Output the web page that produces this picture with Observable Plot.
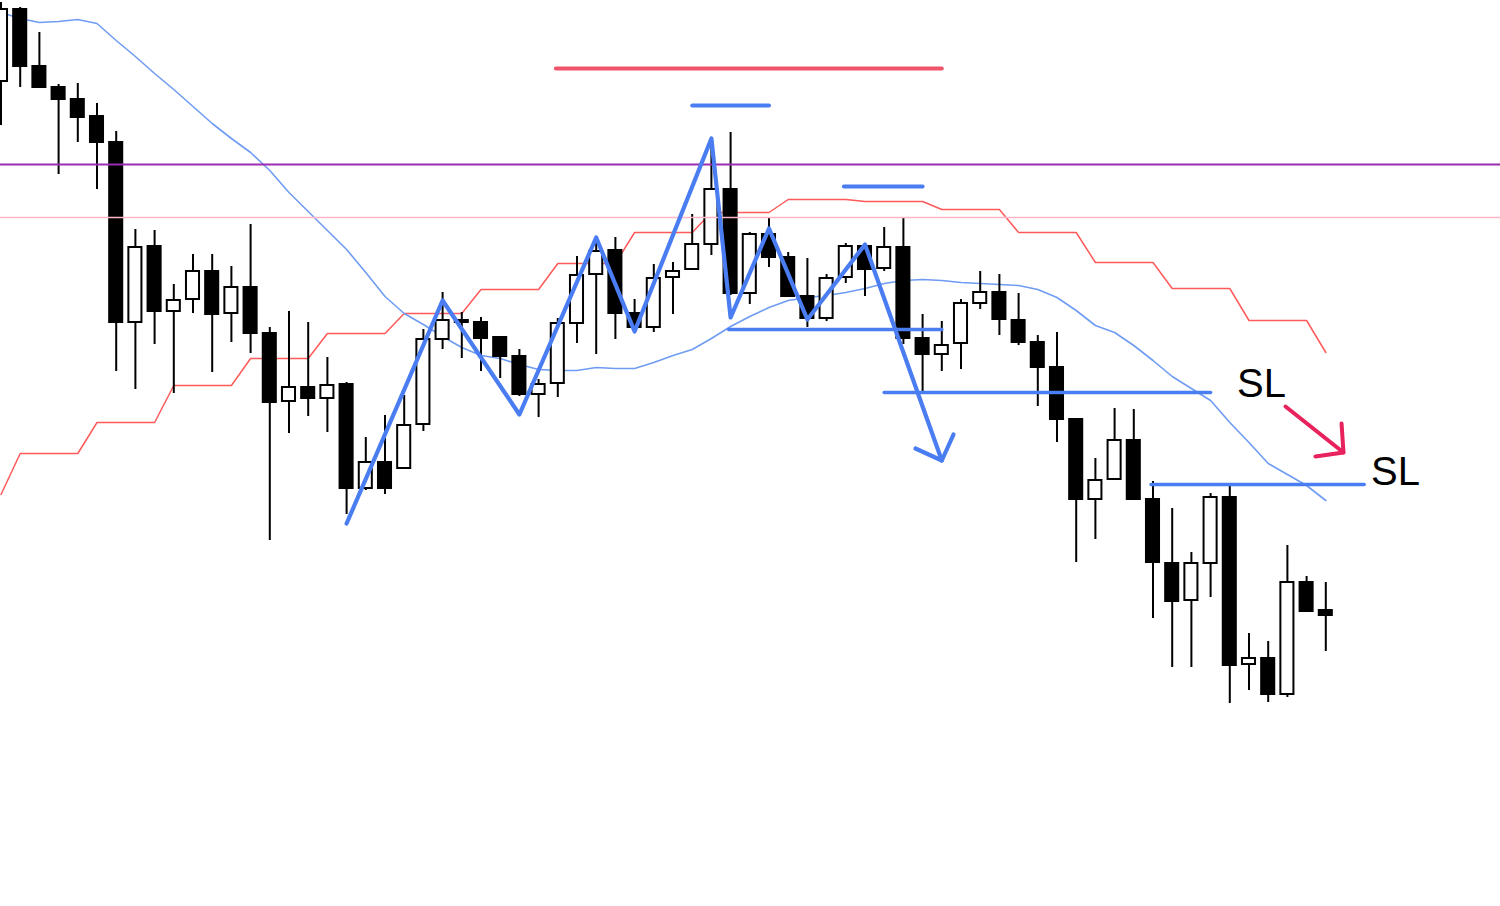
<!DOCTYPE html>
<html>
<head>
<meta charset="utf-8">
<script src="https://cdn.jsdelivr.net/npm/d3@7"></script>
<script src="https://cdn.jsdelivr.net/npm/@observablehq/plot@0.6"></script>
<style>
  html, body { margin: 0; padding: 0; background: #ffffff; }
  #chart svg { display: block; background: #ffffff; }
</style>
</head>
<body>
<div id="chart"></div>
<script>
// ---- Candle data (index 0..69), price units ----
const opens = [149.19,149.91,149.34,149.13,149.01,148.84,148.58,146.78,147.54,146.89,
  147.01,147.29,146.87,147.13,146.67,145.99,146.13,146.02,146.16,145.12,
  145.38,145.32,145.76,146.61,146.80,146.78,146.63,146.44,146.06,146.17,
  146.77,147.26,147.50,146.87,146.73,147.23,147.31,147.56,148.11,147.07,
  147.66,147.43,147.04,146.82,147.23,147.54,147.32,147.53,146.62,146.46,
  146.57,146.97,147.08,146.80,146.58,146.33,145.81,145.01,145.21,145.60,
  145.01,144.37,144.00,144.37,145.03,143.36,143.42,143.06,144.18,143.90];
const highs = [149.98,149.93,149.68,149.16,149.17,148.97,148.69,147.71,147.70,147.16,
  147.46,147.46,147.34,147.76,146.73,146.89,146.78,146.43,146.18,145.63,
  145.85,146.05,146.71,147.08,146.88,146.83,146.64,146.51,146.21,146.82,
  147.44,147.63,147.63,147.01,147.36,147.38,147.86,148.60,148.68,147.68,
  147.82,147.48,147.42,147.26,147.57,147.55,147.73,147.82,146.86,146.79,
  147.01,147.29,147.26,147.07,146.65,146.68,145.81,145.42,145.92,145.91,
  145.19,144.92,144.48,145.07,145.15,143.67,143.59,144.55,144.24,144.18];
const lows = [148.75,149.13,149.13,148.26,148.58,148.11,146.29,146.11,146.56,146.07,
  146.87,146.28,146.58,146.47,144.60,145.67,145.84,145.68,144.86,145.10,
  145.06,145.32,145.69,146.51,146.42,146.29,146.22,146.04,145.83,146.03,
  146.57,146.46,146.61,146.70,146.68,146.86,147.31,147.45,147.05,146.96,
  147.33,147.03,146.73,146.79,147.17,147.04,147.29,146.56,146.08,146.29,
  146.31,146.91,146.65,146.55,145.94,145.58,144.38,144.61,145.21,145.00,
  143.82,143.33,143.33,144.03,142.97,143.10,142.98,143.03,143.89,143.49];
const closes = [149.91,149.34,149.13,149.01,148.83,148.58,146.78,147.53,146.89,147.00,
  147.29,146.86,147.13,146.67,145.98,146.13,146.02,146.15,145.12,145.38,
  145.12,145.75,146.61,146.80,146.78,146.62,146.44,146.06,146.16,146.77,
  147.25,147.49,146.87,146.73,147.22,147.29,147.56,148.11,147.07,147.66,
  147.43,147.04,146.82,147.22,147.54,147.31,147.53,146.62,146.46,146.55,
  146.97,147.08,146.81,146.58,146.33,145.81,145.01,145.20,145.60,145.01,
  144.38,143.99,144.37,145.03,143.35,143.42,143.06,144.18,143.89,143.85];

// ---- Moving average (blue thin) ----
const maValues = [149.88,149.82,149.78,149.79,149.81,149.77,149.60,149.44,149.27,149.11,
  148.94,148.77,148.62,148.48,148.30,148.08,147.89,147.70,147.51,147.28,
  147.04,146.87,146.76,146.64,146.53,146.45,146.42,146.36,146.31,146.30,
  146.30,146.33,146.32,146.32,146.38,146.45,146.51,146.62,146.74,146.84,
  146.93,147.00,147.03,147.05,147.08,147.12,147.17,147.20,147.21,147.20,
  147.18,147.17,147.16,147.15,147.11,147.03,146.90,146.75,146.68,146.55,
  146.40,146.24,146.12,146.00,145.78,145.58,145.37,145.26,145.15,145.00];

// ---- Red step line ----
const stepValues = [145.06,145.47,145.47,145.47,145.47,145.78,145.78,145.78,145.78,146.15,
  146.15,146.15,146.15,146.42,146.42,146.42,146.42,146.67,146.67,146.67,
  146.67,146.87,146.87,146.87,146.87,147.11,147.11,147.11,147.11,147.37,
  147.37,147.37,147.37,147.68,147.68,147.68,147.68,147.88,147.88,147.88,
  147.88,148.01,148.01,148.01,148.01,147.99,147.99,147.99,147.99,147.91,
  147.91,147.91,147.91,147.68,147.68,147.68,147.68,147.38,147.38,147.38,
  147.38,147.12,147.12,147.12,147.12,146.80,146.80,146.80,146.80,146.48];

// ---- Horizontal levels ----
const purpleLevel = [148.36];
const pinkLevel = [147.83];

// ---- Annotation segments: [xStart, xEnd, price] ----
const redTopLine = [[28.9, 49.0, 149.32]];
const blueShortLines = [[36.0, 40.0, 148.95], [43.9, 48.0, 148.14]];
const blueLevelLines = [[37.9, 49.0, 146.71], [46.0, 63.0, 146.08], [59.9, 71.0, 145.16]];

// ---- Zigzag (index, price) ----
const zigX = [18, 23, 27, 31, 33, 37, 38, 40, 42, 45, 49];
const zigY = [144.77, 147.00, 145.86, 147.63, 146.69, 148.62, 146.83, 147.72, 146.81, 147.56, 145.40];
const zigHeadX = [47.63, 49, 49.61];
const zigHeadY = [145.52, 145.40, 145.66];

// ---- Red SL arrow ----
const slArrowX = [66.9, 69.92];
const slArrowY = [145.94, 145.48];
const slHeadX = [69.82, 69.92, 68.46];
const slHeadY = [145.77, 145.48, 145.44];

// ---- Labels ----
const labelText = ["SL", "SL"];
const labelX = [64.38, 71.36];
const labelY = [146.165, 145.28];

// ---- Build tables ----
const idx = d3.range(opens.length);
const candles = idx.map(i => ({i, open: opens[i], high: highs[i], low: lows[i], close: closes[i]}));
const toSeg = a => a.map(([x1, x2, y]) => ({x1, x2, y}));
const zig = zigX.map((x, k) => ({x, y: zigY[k]}));
const zigHead = zigHeadX.map((x, k) => ({x, y: zigHeadY[k]}));
const slArrow = slArrowX.map((x, k) => ({x, y: slArrowY[k]}));
const slHead = slHeadX.map((x, k) => ({x, y: slHeadY[k]}));
const labels = labelText.map((t, k) => ({t, x: labelX[k], y: labelY[k]}));

const BLUE = "#4a7df2";
const half = 0.34;

const chart = Plot.plot({
  width: 1500,
  height: 906,
  margin: 0,
  style: {background: "#ffffff", overflow: "visible"},
  x: {type: "linear", domain: [-0.026, 78.099], axis: null},
  y: {type: "linear", domain: [140.94, 150], axis: null},
  marks: [
    Plot.line(idx, {x: i => i, y: i => stepValues[i], stroke: "#ff5a5a", strokeWidth: 1.5}),
    Plot.line(idx, {x: i => i, y: i => maValues[i], stroke: "#6f9cf3", strokeWidth: 1.6, curve: "linear"}),
    Plot.ruleX(candles, {x: "i", y1: "low", y2: "high", stroke: "black", strokeWidth: 2}),
    Plot.rect(candles, {
      x1: d => d.i - half, x2: d => d.i + half,
      y1: "open", y2: "close",
      fill: d => d.close >= d.open ? "white" : "black",
      stroke: "black", strokeWidth: 2
    }),
    Plot.ruleY(purpleLevel, {stroke: "#9c2cb0", strokeWidth: 2}),
    Plot.ruleY(pinkLevel, {stroke: "#ffb6c9", strokeWidth: 1.5}),
    Plot.link(toSeg(redTopLine), {x1: "x1", x2: "x2", y1: "y", y2: "y", stroke: "#f0546a", strokeWidth: 4, strokeLinecap: "round"}),
    Plot.link(toSeg(blueShortLines), {x1: "x1", x2: "x2", y1: "y", y2: "y", stroke: BLUE, strokeWidth: 4, strokeLinecap: "round"}),
    Plot.link(toSeg(blueLevelLines), {x1: "x1", x2: "x2", y1: "y", y2: "y", stroke: BLUE, strokeWidth: 3.5, strokeLinecap: "round"}),
    Plot.line(zig, {x: "x", y: "y", stroke: BLUE, strokeWidth: 4.2, strokeLinecap: "round", strokeLinejoin: "round"}),
    Plot.line(zigHead, {x: "x", y: "y", stroke: BLUE, strokeWidth: 4.2, strokeLinecap: "round", strokeLinejoin: "round"}),
    Plot.line(slArrow, {x: "x", y: "y", stroke: "#e8225c", strokeWidth: 4, strokeLinecap: "round"}),
    Plot.line(slHead, {x: "x", y: "y", stroke: "#e8225c", strokeWidth: 4, strokeLinecap: "round", strokeLinejoin: "round"}),
    Plot.text(labels, {x: "x", y: "y", text: "t", textAnchor: "start", lineAnchor: "middle", fontSize: 40, fill: "black", fontFamily: "'Liberation Sans', Arial, sans-serif"})
  ]
});
document.getElementById("chart").appendChild(chart);
</script>
</body>
</html>
